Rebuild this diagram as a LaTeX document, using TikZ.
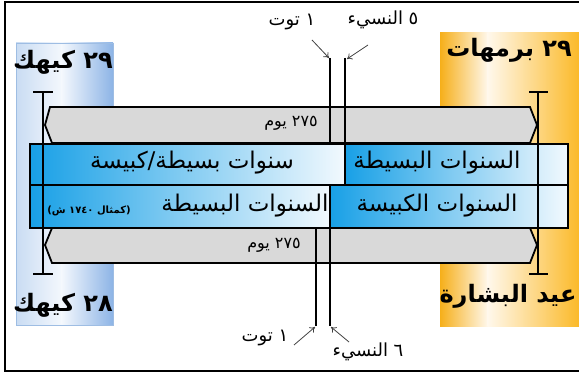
\documentclass[tikz,border=0pt]{standalone}
\usepackage{fontspec}
\TeXXeTstate=1
\newfontfamily\arabicfont[Script=Arabic]{DejaVu Sans}
\usetikzlibrary{arrows.meta}
\definecolor{kbl}{HTML}{C9DCF3}
\definecolor{kbm}{HTML}{F4F8FD}
\definecolor{kbr}{HTML}{8DB4E6}
\definecolor{kborder}{HTML}{9EBDE3}
\definecolor{orl}{HTML}{F6AF1A}
\definecolor{orm}{HTML}{FFF8EC}
\definecolor{orr}{HTML}{FBB927}
\definecolor{cellblue}{HTML}{18A0E6}
\definecolor{cellwhite}{HTML}{F2F9FE}
\definecolor{bandgray}{HTML}{D9D9D9}
\definecolor{arrowgray}{HTML}{404040}
\begin{document}
\begin{tikzpicture}[x=1pt,y=-1pt,
  rowcell/.style={draw=black,line width=2.2pt,left color=cellblue,right color=cellwhite},
  band/.style={draw=black,line width=1.8pt,fill=bandgray,line join=miter},
  beam/.style={line width=2.4pt},
  vline/.style={line width=1.4pt},
  callout/.style={-{To[length=5pt,width=7pt]},draw=arrowgray,line width=0.8pt},
  big/.style={font=\arabicfont\bfseries\fontsize{24}{28}\selectfont, inner sep=0pt},
  rowtext/.style={font=\arabicfont\fontsize{23}{27}\selectfont, inner sep=0pt},
  lbl/.style={font=\arabicfont\fontsize{18}{22}\selectfont, inner sep=0pt},
  daylbl/.style={font=\arabicfont\fontsize{16}{19}\selectfont, inner sep=0pt},
  note/.style={font=\arabicfont\bfseries\fontsize{10}{12}\selectfont, inner sep=0pt},
]
\useasboundingbox (0,0) rectangle (579,374);
\clip (0,0) rectangle (579,374);
\draw[line width=1.5pt] (5,2) rectangle (600,371);

% side boxes
\fill[left color=kbl, right color=kbm] (16,43) rectangle (62,325);
\fill[left color=kbm, right color=kbr] (61.5,43) rectangle (113,325);
\draw[kborder, line width=0.6pt] (16,43) rectangle (113,325);
\fill[left color=orl, right color=orm] (440,33) rectangle (488,327);
\fill[left color=orm, right color=orr] (487.5,33) rectangle (580,327);

% gray bands
\draw[band] (50,107) -- (530,107) -- (537,125) -- (530,143) -- (52,143) -- (45,125) -- cycle;
\draw[band] (52,228) -- (530,228) -- (537,245) -- (530,263) -- (52,263) -- (45,245) -- cycle;
\node[daylbl] (d1) at (291,123) {\beginR ٢٧٥ يوم\endR};
\node[daylbl] (d2) at (274,245) {\beginR ٢٧٥ يوم\endR};

% vertical marker lines
\coordinate (t1) at (330,58);
\coordinate (t2) at (345,58);
\coordinate (b1) at (316,326);
\coordinate (b2) at (330,326);
\draw[vline] (t1) -- (330,144);
\draw[vline] (t2) -- (345,144);
\draw[vline] (316,228) -- (b1);
\draw[vline] (330,228) -- (b2);

% rows
\draw[rowcell] (30,144) rectangle (345,185);
\draw[rowcell] (345,144) rectangle (568,185);
\draw[rowcell] (30,185) rectangle (330,228);
\draw[rowcell] (330,185) rectangle (568,228);

% I-beams
\draw[beam] (43,92) -- (43,274);
\draw[beam] (33,92) -- (53,92);
\draw[beam] (33,274) -- (53,274);
\draw[beam] (538,92) -- (538,274);
\draw[beam] (529,92) -- (548,92);
\draw[beam] (529,274) -- (548,274);

% row texts
\node[rowtext] (r1l) at (192,163) {\beginR سنوات بسيطة/كبيسة\endR};
\node[rowtext] (r1r) at (437,163) {\beginR السنوات البسيطة\endR};
\node[rowtext] (r2l) at (245,206) {\beginR السنوات البسيطة\endR};
\node[note] (r2n) at (89,211) {\beginR (كمثال ١٧٤٠ ش)\endR};
\node[rowtext] (r2r) at (437,206) {\beginR السنوات الكبيسة\endR};

% side labels
\node[big] (k29) at (63,62) {\beginR ٢٩ كيهك\endR};
\node[big] (k28) at (63,305) {\beginR ٢٨ كيهك\endR};
\node[big] (b29) at (509,50) {\beginR ٢٩ برمهات\endR};
\node[big] (bis) at (508,296) {\beginR عيد البشارة\endR};

% callout labels
\node[lbl] (tut1) at (292,22) {\beginR ١ توت\endR};
\node[lbl] (nas5) at (383,20) {\beginR ٥ النسيء\endR};
\node[lbl] (tut2) at (265,338) {\beginR ١ توت\endR};
\node[lbl] (nas6) at (368,352) {\beginR ٦ النسيء\endR};

\coordinate (a1) at (312,40);
\coordinate (a2) at (368,45);
\coordinate (a3) at (294,345);
\coordinate (a4) at (349,342);
\coordinate (h1) at (329,58);
\coordinate (h2) at (347,59);
\coordinate (h3) at (315,327);
\coordinate (h4) at (331,327);
\draw[callout] (a1) -- (h1);
\draw[callout] (a2) -- (h2);
\draw[callout] (a3) -- (h3);
\draw[callout] (a4) -- (h4);
\end{tikzpicture}
\end{document}
